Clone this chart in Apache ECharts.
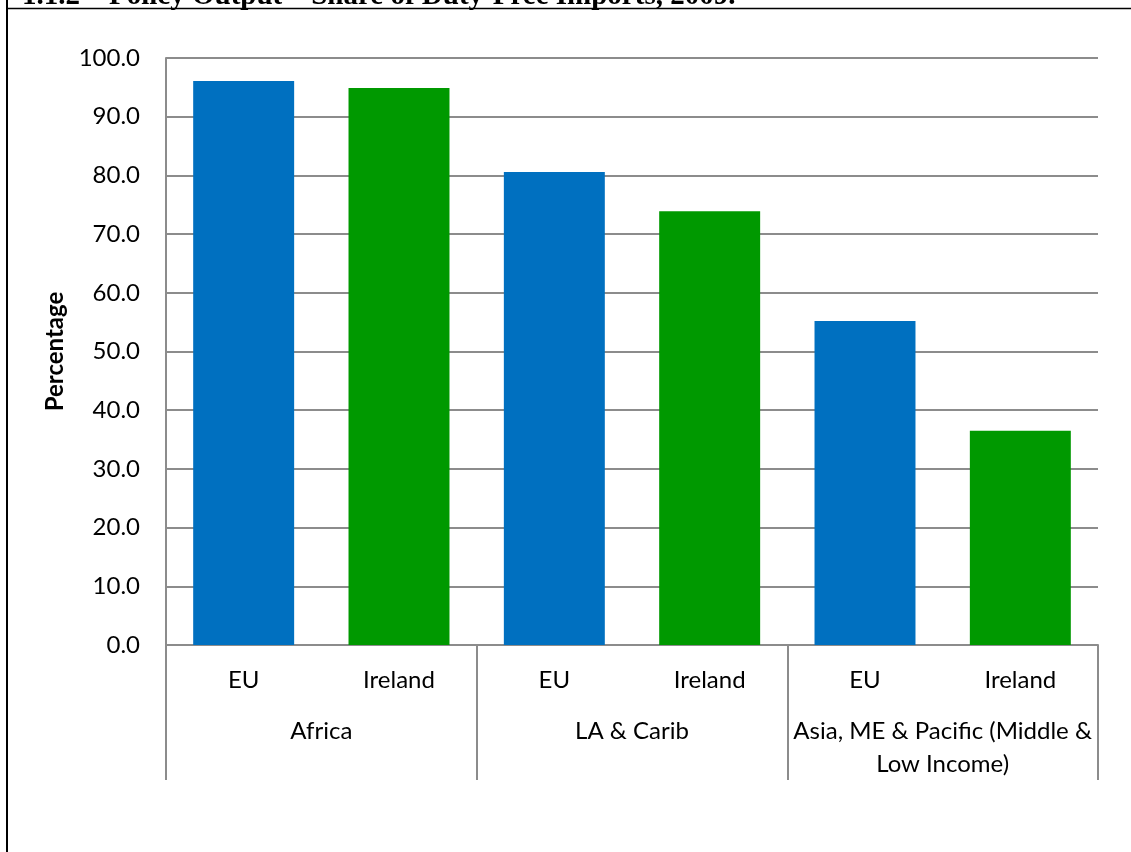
<!DOCTYPE html>
<html>
<head>
<meta charset="utf-8">
<style>
  html, body { margin: 0; padding: 0; background: #ffffff; }
  #chart { width: 1131px; height: 852px; }
</style>
<script src="https://cdn.jsdelivr.net/npm/echarts@6/dist/echarts.min.js"></script>
</head>
<body>
<div id="chart"></div>
<script>
// Bar categories (exporter within each region)
const categories = ['EU', 'Ireland', 'EU', 'Ireland', 'EU', 'Ireland'];
// Region groups spanning two bars each
const regions = ['Africa', 'LA & Carib', 'Asia, ME & Pacific (Middle &\nLow Income)'];
// Share of duty-free imports, percent
const dutyFreeShare = [96.1, 94.9, 80.6, 73.9, 55.2, 36.5];
// Value axis range
const yMin = 0, yMax = 100, yStep = 10;

const EU_BLUE = '#0070c0';
const IRL_GREEN = '#009900';
const GRID_GREY = '#8c8c8c';
const FONT = 'Lato';
const FONT_SIZE = 24;

const chart = echarts.init(document.getElementById('chart'), null, { renderer: 'canvas' });

chart.setOption({
  backgroundColor: '#ffffff',
  animation: false,
  grid: { left: 166, right: 33, top: 58, bottom: 207, containLabel: false },
  graphic: [
    {
      // heading of the page section, running off the top edge
      type: 'text',
      left: 22,
      top: -18,
      style: {
        text: '1.1.2 \u2013 Policy Output \u2013 Share of Duty-Free Imports, 2009.',
        font: 'bold 29px "Liberation Serif", "DejaVu Serif", serif',
        fill: '#000000'
      },
      z: 1
    },
    {
      type: 'line',
      shape: { x1: 6, y1: 8.5, x2: 1131, y2: 8.5 },
      style: { stroke: '#000000', lineWidth: 1.5 },
      z: 10
    },
    {
      type: 'line',
      shape: { x1: 7, y1: 0, x2: 7, y2: 852 },
      style: { stroke: '#000000', lineWidth: 2 },
      z: 10
    }
  ],
  xAxis: [
    {
      type: 'category',
      data: categories,
      position: 'bottom',
      offset: 0,
      axisLine: { show: true, lineStyle: { color: GRID_GREY, width: 2 } },
      axisTick: { show: false },
      axisLabel: {
        interval: 0,
        color: '#000000',
        fontFamily: FONT,
        fontSize: FONT_SIZE,
        lineHeight: 28,
        margin: 21
      }
    },
    {
      type: 'category',
      data: regions,
      position: 'bottom',
      offset: 0,
      boundaryGap: true,
      axisLine: { show: false },
      axisTick: {
        show: true,
        interval: 0,
        inside: false,
        length: 135,
        lineStyle: { color: GRID_GREY, width: 2 }
      },
      axisLabel: {
        interval: 0,
        color: '#000000',
        fontFamily: FONT,
        fontSize: FONT_SIZE,
        lineHeight: 33,
        margin: 70,
        align: 'center'
      }
    }
  ],
  yAxis: {
    type: 'value',
    min: yMin,
    max: yMax,
    interval: yStep,
    name: 'Percentage',
    nameLocation: 'middle',
    nameGap: 94,
    nameRotate: 90,
    nameTextStyle: {
      color: '#000000',
      fontFamily: FONT,
      fontWeight: 'bold',
      fontSize: 24
    },
    axisLine: { show: true, lineStyle: { color: GRID_GREY, width: 2 } },
    axisTick: { show: false },
    splitLine: { show: true, lineStyle: { color: GRID_GREY, width: 2 } },
    axisLabel: {
      color: '#000000',
      fontFamily: FONT,
      fontSize: FONT_SIZE,
      margin: 26,
      formatter: v => v.toFixed(1)
    }
  },
  series: [
    {
      type: 'bar',
      xAxisIndex: 0,
      data: dutyFreeShare,
      barWidth: '65%',
      itemStyle: {
        color: p => (categories[p.dataIndex] === 'EU' ? EU_BLUE : IRL_GREEN)
      }
    }
  ]
});
</script>
</body>
</html>
